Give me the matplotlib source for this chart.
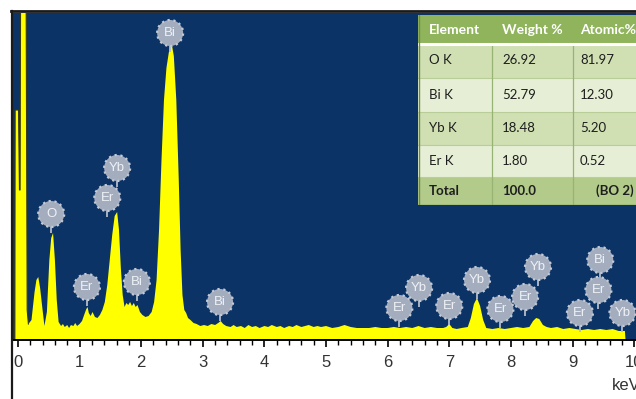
import matplotlib.pyplot as plt
from matplotlib.lines import Line2D
from matplotlib.patches import Rectangle
from matplotlib.ticker import MultipleLocator

# EDS spectrum traced as (keV, counts)
spectrum = [
    (-0.05, 0), (-0.045, 230), (0.01, 230), (0.025, 150), (0.035, 150),
    (0.045, 400), (0.13, 400), (0.15, 30), (0.17, 16), (0.22, 20), (0.27, 48),
    (0.30, 60), (0.33, 63), (0.36, 52), (0.40, 30), (0.43, 14), (0.47, 28),
    (0.51, 80), (0.54, 102), (0.57, 107), (0.60, 80), (0.63, 40), (0.66, 18),
    (0.70, 14), (0.73, 16), (0.76, 13), (0.80, 15), (0.83, 12), (0.86, 15),
    (0.90, 14), (0.93, 17), (0.96, 14), (1.00, 16), (1.04, 19), (1.08, 26),
    (1.11, 31), (1.13, 33), (1.15, 27), (1.18, 24), (1.21, 28), (1.25, 23),
    (1.29, 22), (1.33, 25), (1.37, 30), (1.41, 38), (1.45, 55), (1.49, 80),
    (1.53, 105), (1.57, 124), (1.61, 128), (1.64, 110), (1.67, 72), (1.70, 45),
    (1.73, 33), (1.76, 37), (1.79, 35), (1.82, 38), (1.85, 34), (1.88, 37),
    (1.91, 33), (1.94, 35), (1.98, 28), (2.02, 25), (2.07, 23), (2.12, 24),
    (2.17, 28), (2.21, 38), (2.25, 60), (2.29, 110), (2.33, 180), (2.37, 240),
    (2.41, 272), (2.45, 288), (2.49, 298), (2.53, 284), (2.57, 240),
    (2.61, 160), (2.64, 90), (2.67, 45), (2.70, 30), (2.73, 27), (2.76, 22),
    (2.80, 20), (2.85, 17), (2.90, 16), (2.96, 14), (3.02, 15), (3.08, 14),
    (3.14, 16), (3.20, 15), (3.25, 17), (3.29, 19), (3.33, 16), (3.38, 14),
    (3.45, 13), (3.50, 15), (3.55, 13), (3.62, 14), (3.68, 12), (3.74, 15),
    (3.80, 13), (3.86, 14), (3.92, 12), (4.00, 14), (4.06, 13), (4.12, 15),
    (4.20, 13), (4.26, 14), (4.32, 12), (4.40, 14), (4.46, 13), (4.52, 15),
    (4.60, 13), (4.66, 14), (4.72, 15), (4.80, 13), (4.86, 14), (4.92, 13),
    (5.00, 14), (5.10, 12), (5.20, 13), (5.30, 15), (5.40, 13), (5.50, 12),
    (5.60, 12), (5.70, 12), (5.80, 13), (5.90, 12), (6.00, 12), (6.10, 13),
    (6.20, 12), (6.30, 13), (6.40, 12), (6.50, 14), (6.60, 12), (6.70, 13),
    (6.80, 12), (6.90, 12), (6.95, 13), (7.00, 16), (7.05, 12), (7.12, 11),
    (7.20, 12), (7.30, 13), (7.35, 22), (7.40, 36), (7.45, 42), (7.50, 34),
    (7.55, 20), (7.60, 12), (7.70, 11), (7.80, 12), (7.90, 11), (8.00, 12),
    (8.10, 13), (8.20, 12), (8.30, 13), (8.36, 19), (8.41, 22), (8.46, 21),
    (8.52, 15), (8.58, 13), (8.65, 12), (8.75, 13), (8.85, 11), (8.95, 12),
    (9.05, 11), (9.15, 10), (9.25, 11), (9.35, 10), (9.45, 11), (9.55, 10),
    (9.65, 11), (9.75, 9), (9.85, 9), (9.86, 0),
]
energy_kev = [p[0] for p in spectrum]
counts = [p[1] for p in spectrum]

# peak tags: element, energy of tag centre, height of tag centre
tag_text = ['Bi', 'Yb', 'Er', 'O', 'Er', 'Bi', 'Bi', 'Er', 'Yb', 'Er',
            'Yb', 'Er', 'Er', 'Yb', 'Er', 'Bi', 'Er', 'Yb']
tag_kev = [2.47, 1.61, 1.45, 0.54, 1.12, 1.93, 3.28, 6.19, 6.51, 7.00,
           7.45, 7.83, 8.23, 8.44, 9.12, 9.45, 9.42, 9.81]
tag_counts = [307, 172, 142, 126, 53, 58, 38, 32, 52, 34,
              60, 31, 43, 73, 27, 80, 50, 27]

# quantification table
table_header = ['Element', 'Weight %', 'Atomic%']
table_element = ['O K', 'Bi K', 'Yb K', 'Er K']
table_weight = ['26.92', '52.79', '18.48', '1.80']
table_atomic = ['81.97', '12.30', '5.20', '0.52']
table_total = ['Total', '100.0', '(BO 2)']

W, H = 636, 399
fig = plt.figure(figsize=(W / 100, H / 100), dpi=100)
ax = fig.add_axes([13 / W, (H - 340) / H, (W - 13) / W, (340 - 13) / H])
ax.set_facecolor('#0c3366')

ax.fill_between(energy_kev, counts, 0, color='#ffff00', lw=0, zorder=2)
# dark outline on the zero-energy spike
ax.plot(energy_kev[:9], counts[:9], color='#3a3a10', lw=0.8, zorder=2.5)

# stems and round tags
for t, x, y in zip(tag_text, tag_kev, tag_counts):
    ax.plot([x, x], [y, y - 19], color='#b4bccb', lw=1.3, zorder=3,
            solid_capstyle='butt')
ax.scatter(tag_kev, tag_counts, s=350, c='#a3adbe', edgecolors='#c3cad6',
           linewidths=1.6, linestyles=':', zorder=4)
for t, x, y in zip(tag_text, tag_kev, tag_counts):
    ax.text(x, y, t, ha='center', va='center', fontsize=9.5,
            color='#eef1f6', family='Liberation Sans', zorder=5)

ax.set_xlim(-0.08, 10.03)
ax.set_ylim(0, 327)
ax.xaxis.set_minor_locator(MultipleLocator(0.2))
ax.set_yticks([])
for s in ['top', 'right', 'left']:
    ax.spines[s].set_visible(False)
ax.spines['bottom'].set_linewidth(1.4)
ax.tick_params(axis='x', which='major', length=5, width=1.2, pad=6,
               labelsize=12, labelcolor='#333333')
ax.tick_params(axis='x', which='minor', length=3.5, width=1)
ax.set_xticks(range(11))
ax.set_xticklabels([str(i) for i in range(11)], family='Liberation Sans')

fig.text(612 / W, 1 - 386 / H, 'keV', fontsize=12, color='#333333',
         family='Liberation Sans', ha='left', va='center')

# frame lines along top and left of the picture
fig.add_artist(Line2D([11 / W, 1], [1 - 11 / H] * 2, color='#1a1a1a', lw=2))
fig.add_artist(Line2D([12 / W] * 2, [0, 1 - 11 / H], color='#1a1a1a', lw=1.6))

# table drawn in pixel units
tx = fig.add_axes([418 / W, (H - 205) / H, 232 / W, 190 / H])
tx.set_xlim(0, 232)
tx.set_ylim(190, 0)
tx.axis('off')
row_edges = [0, 28, 63, 97, 130, 162, 190]
row_colors = ['#8fb45b', '#d0e0b3', '#e6efd5', '#d0e0b3', '#e6efd5', '#b2ca8a']
col_edges = [0, 74, 155, 232]
for i, c in enumerate(row_colors):
    tx.add_patch(Rectangle((0, row_edges[i]), 232, row_edges[i + 1] - row_edges[i],
                           facecolor=c, edgecolor='none'))
for y in row_edges[2:-1]:
    tx.plot([0, 232], [y, y], color='#b9cd98', lw=0.8)
for x in col_edges[1:-1]:
    tx.plot([x, x], [28, 190], color='#98b474', lw=0.9)
tx.plot([0, 232], [28.5, 28.5], color='white', lw=2.2)
tx.plot([0.5, 0.5], [0, 190], color='#6f8c4a', lw=1)
tx.plot([0, 232], [189.5, 189.5], color='#6f8c4a', lw=1)

text_x = [11, 84, 162]
for x, t in zip(text_x, table_header):
    tx.text(x, 15, t, ha='left', va='center', color='white', fontsize=10,
            fontweight='bold', family='Lato')
for r, vals in enumerate(zip(table_element, table_weight, table_atomic)):
    yc = (row_edges[r + 1] + row_edges[r + 2]) / 2
    for x, t in zip(text_x, vals):
        tx.text(x, yc, t, ha='left', va='center', color='#1e1e1e',
                fontsize=9.5, family='Lato')
yc = (row_edges[5] + row_edges[6]) / 2
for x, t in zip([11, 84, 178], table_total):
    tx.text(x, yc, t, ha='left', va='center', color='#1e1e1e', fontsize=9.5,
            fontweight='bold', family='Lato')

fig.savefig('out.png', dpi=100)
